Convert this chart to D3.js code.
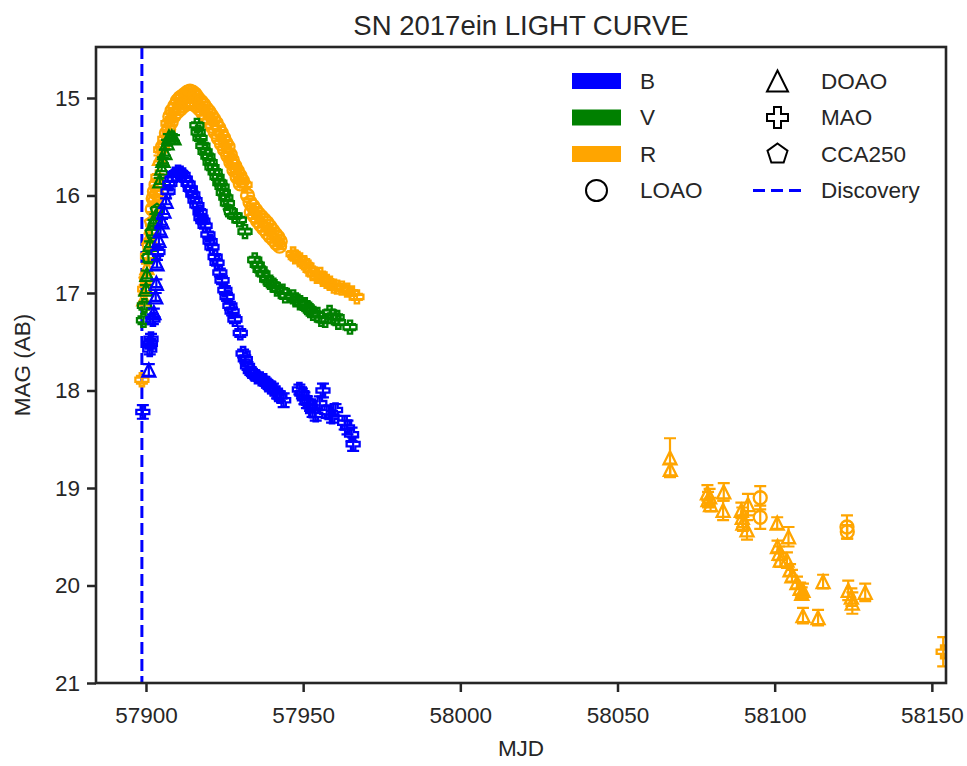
<!DOCTYPE html>
<html>
<head>
<meta charset="utf-8">
<title>SN 2017ein light curve</title>
<style>
    html, body {margin: 0px; padding: 0px; background: #ffffff; overflow: hidden;}
    svg text {font-family: "Liberation Sans", Arial, sans-serif; fill: #262626;}
</style>
</head>
<body>
<div id="chart"></div>
<script src="https://cdn.jsdelivr.net/npm/d3@7"></script>
<script>
// rows are [MJD, mag, error, telescope]
var bandB = [
    [57899.0, 18.22, 0.07, "MAO"], [57900.9, 17.79, 0.06, "DOAO"], [57901.2, 17.58, 0.05, "MAO"],
    [57901.4, 17.52, 0.05, "MAO"], [57901.6, 17.47, 0.05, "MAO"], [57902.2, 17.27, 0.05, "MAO"],
    [57902.5, 17.20, 0.04, "DOAO"], [57903.1, 17.04, 0.04, "DOAO"], [57903.3, 16.90, 0.04, "DOAO"],
    [57903.5, 16.70, 0.04, "DOAO"], [57903.8, 16.58, 0.04, "MAO"], [57904.1, 16.46, 0.04, "DOAO"],
    [57904.6, 16.36, 0.04, "DOAO"], [57905.1, 16.27, 0.03, "DOAO"], [57905.7, 16.16, 0.03, "DOAO"],
    [57906.4, 16.06, 0.03, "DOAO"], [57907.0, 15.96, 0.03, "MAO"], [57907.6, 15.88, 0.03, "MAO"],
    [57908.3, 15.83, 0.03, "MAO"], [57909.2, 15.78, 0.03, "MAO"], [57910.2, 15.76, 0.03, "MAO"],
    [57911.0, 15.77, 0.03, "MAO"], [57911.8, 15.79, 0.03, "MAO"], [57912.5, 15.83, 0.03, "MAO"],
    [57913.4, 15.88, 0.03, "MAO"], [57914.1, 15.93, 0.03, "MAO"], [57914.9, 15.99, 0.03, "MAO"],
    [57915.6, 16.05, 0.03, "MAO"], [57916.2, 16.10, 0.03, "MAO"], [57917.2, 16.17, 0.03, "MAO"],
    [57917.5, 16.23, 0.03, "MAO"], [57918.1, 16.26, 0.03, "MAO"], [57918.8, 16.31, 0.03, "MAO"],
    [57919.7, 16.40, 0.03, "MAO"], [57920.4, 16.47, 0.03, "MAO"], [57921.0, 16.53, 0.03, "MAO"],
    [57922.0, 16.63, 0.03, "MAO"], [57922.6, 16.69, 0.03, "MAO"], [57923.5, 16.79, 0.04, "MAO"],
    [57924.2, 16.87, 0.04, "MAO"], [57925.1, 16.97, 0.04, "MAO"], [57925.8, 17.04, 0.04, "MAO"],
    [57926.7, 17.13, 0.04, "MAO"], [57927.4, 17.19, 0.04, "MAO"], [57928.3, 17.27, 0.04, "MAO"],
    [57930.0, 17.41, 0.04, "MAO"], [57930.9, 17.62, 0.04, "MAO"], [57931.6, 17.68, 0.04, "MAO"],
    [57932.3, 17.75, 0.04, "MAO"], [57933.2, 17.80, 0.04, "MAO"], [57934.2, 17.83, 0.04, "MAO"],
    [57935.3, 17.86, 0.04, "MAO"], [57936.5, 17.88, 0.04, "MAO"], [57937.6, 17.90, 0.04, "MAO"],
    [57938.5, 17.93, 0.04, "MAO"], [57939.5, 17.96, 0.05, "MAO"], [57940.4, 17.98, 0.05, "MAO"],
    [57941.7, 18.03, 0.05, "MAO"], [57942.6, 18.06, 0.05, "MAO"], [57943.8, 18.10, 0.07, "MAO"],
    [57948.8, 17.99, 0.05, "MAO"], [57949.6, 18.03, 0.05, "MAO"], [57950.4, 18.08, 0.06, "MAO"],
    [57951.2, 18.12, 0.06, "MAO"], [57952.2, 18.15, 0.06, "MAO"], [57953.0, 18.21, 0.06, "MAO"],
    [57954.0, 18.25, 0.06, "MAO"], [57955.3, 18.13, 0.07, "MAO"], [57956.3, 18.00, 0.07, "MAO"],
    [57957.5, 18.22, 0.06, "MAO"], [57959.2, 18.27, 0.06, "MAO"], [57960.3, 18.20, 0.06, "MAO"],
    [57963.2, 18.33, 0.07, "MAO"], [57964.1, 18.38, 0.07, "MAO"], [57965.4, 18.45, 0.07, "MAO"],
    [57965.9, 18.55, 0.07, "MAO"]
];

var bandV = [
    [57899.2, 17.28, 0.04, "MAO"], [57899.5, 17.13, 0.04, "MAO"], [57900.0, 16.96, 0.04, "DOAO"],
    [57900.3, 16.81, 0.04, "DOAO"], [57900.8, 16.64, 0.04, "CCA250"], [57901.3, 16.50, 0.03, "DOAO"],
    [57901.9, 16.38, 0.03, "CCA250"], [57902.4, 16.28, 0.03, "DOAO"], [57903.0, 16.22, 0.03, "DOAO"],
    [57903.5, 16.15, 0.03, "CCA250"], [57904.4, 15.85, 0.03, "DOAO"], [57905.0, 15.72, 0.03, "DOAO"],
    [57905.4, 15.64, 0.03, "DOAO"], [57906.0, 15.56, 0.03, "DOAO"], [57906.7, 15.46, 0.03, "DOAO"],
    [57907.3, 15.40, 0.03, "DOAO"], [57908.2, 15.40, 0.03, "DOAO"], [57908.9, 15.41, 0.03, "DOAO"],
    [57916.2, 15.28, 0.03, "MAO"], [57916.6, 15.35, 0.03, "MAO"], [57917.2, 15.41, 0.03, "MAO"],
    [57918.1, 15.49, 0.03, "MAO"], [57918.8, 15.55, 0.03, "MAO"], [57919.7, 15.60, 0.03, "MAO"],
    [57920.4, 15.66, 0.03, "MAO"], [57921.0, 15.71, 0.03, "MAO"], [57922.0, 15.76, 0.03, "MAO"],
    [57922.6, 15.81, 0.03, "MAO"], [57923.5, 15.87, 0.03, "MAO"], [57924.2, 15.91, 0.03, "MAO"],
    [57924.6, 15.97, 0.03, "MAO"], [57925.4, 16.02, 0.03, "MAO"], [57925.9, 16.08, 0.03, "MAO"],
    [57926.7, 16.16, 0.03, "CCA250"], [57928.2, 16.21, 0.03, "MAO"], [57929.7, 16.25, 0.03, "MAO"],
    [57931.5, 16.37, 0.03, "MAO"], [57934.6, 16.66, 0.03, "MAO"], [57935.4, 16.71, 0.03, "MAO"],
    [57936.3, 16.76, 0.03, "MAO"], [57937.2, 16.80, 0.03, "MAO"], [57938.4, 16.86, 0.03, "MAO"],
    [57939.5, 16.89, 0.03, "MAO"], [57940.5, 16.92, 0.03, "MAO"], [57941.7, 16.96, 0.03, "MAO"],
    [57943.4, 16.98, 0.03, "MAO"], [57944.3, 17.03, 0.03, "MAO"], [57946.8, 17.04, 0.03, "MAO"],
    [57947.6, 17.07, 0.03, "MAO"], [57949.0, 17.10, 0.03, "MAO"], [57950.5, 17.12, 0.03, "MAO"],
    [57951.3, 17.15, 0.03, "MAO"], [57952.3, 17.18, 0.03, "MAO"], [57953.2, 17.21, 0.03, "MAO"],
    [57954.5, 17.22, 0.03, "MAO"], [57955.8, 17.27, 0.03, "MAO"], [57957.0, 17.28, 0.03, "MAO"],
    [57958.4, 17.20, 0.03, "MAO"], [57959.5, 17.24, 0.03, "MAO"], [57960.8, 17.25, 0.03, "MAO"],
    [57961.2, 17.30, 0.03, "MAO"], [57964.9, 17.35, 0.03, "MAO"]
];

var bandR = [
    [57898.7, 17.89, 0.04, "MAO"], [57899.3, 17.06, 0.04, "DOAO"], [57899.6, 16.96, 0.04, "MAO"],
    [57899.9, 16.86, 0.04, "CCA250"], [57900.3, 16.74, 0.04, "DOAO"], [57900.5, 16.62, 0.03, "MAO"],
    [57900.8, 16.52, 0.03, "CCA250"], [57901.1, 16.42, 0.03, "DOAO"], [57901.6, 16.28, 0.03, "CCA250"],
    [57901.8, 16.38, 0.03, "LOAO"], [57902.0, 16.14, 0.03, "LOAO"], [57902.3, 16.03, 0.03, "LOAO"],
    [57902.7, 15.96, 0.03, "LOAO"], [57902.9, 16.05, 0.03, "LOAO"], [57903.2, 15.89, 0.03, "LOAO"],
    [57903.4, 15.98, 0.03, "LOAO"], [57903.8, 15.81, 0.03, "MAO"], [57904.3, 15.62, 0.03, "DOAO"],
    [57904.7, 15.53, 0.03, "MAO"], [57905.3, 15.50, 0.03, "LOAO"], [57906.0, 15.42, 0.03, "MAO"],
    [57906.5, 15.36, 0.03, "LOAO"], [57907.0, 15.26, 0.03, "MAO"], [57907.2, 15.32, 0.03, "LOAO"],
    [57907.6, 15.19, 0.03, "LOAO"], [57908.0, 15.25, 0.03, "LOAO"], [57908.3, 15.13, 0.03, "LOAO"],
    [57909.0, 15.18, 0.03, "LOAO"], [57909.2, 15.08, 0.03, "LOAO"], [57910.0, 15.03, 0.03, "LOAO"],
    [57910.0, 15.14, 0.03, "LOAO"], [57910.8, 15.00, 0.03, "LOAO"], [57911.0, 15.11, 0.03, "LOAO"],
    [57911.6, 14.98, 0.03, "LOAO"], [57912.0, 15.08, 0.03, "LOAO"], [57912.4, 14.96, 0.03, "LOAO"],
    [57913.0, 15.06, 0.03, "LOAO"], [57913.2, 14.94, 0.03, "LOAO"], [57914.0, 14.93, 0.03, "LOAO"],
    [57914.0, 15.05, 0.03, "LOAO"], [57914.8, 14.94, 0.03, "LOAO"], [57915.0, 15.06, 0.03, "LOAO"],
    [57915.6, 14.96, 0.03, "LOAO"], [57916.0, 15.08, 0.03, "LOAO"], [57916.2, 14.99, 0.03, "LOAO"],
    [57916.9, 15.02, 0.03, "LOAO"], [57917.0, 15.11, 0.03, "LOAO"], [57917.6, 15.04, 0.03, "LOAO"],
    [57918.0, 15.15, 0.03, "LOAO"], [57918.4, 15.07, 0.03, "LOAO"], [57919.0, 15.19, 0.03, "LOAO"],
    [57919.2, 15.11, 0.03, "LOAO"], [57920.0, 15.14, 0.03, "LOAO"], [57920.0, 15.24, 0.03, "LOAO"],
    [57920.8, 15.18, 0.03, "LOAO"], [57921.0, 15.29, 0.03, "LOAO"], [57921.6, 15.22, 0.03, "LOAO"],
    [57922.0, 15.35, 0.03, "LOAO"], [57922.4, 15.26, 0.03, "LOAO"], [57923.0, 15.41, 0.03, "LOAO"],
    [57923.2, 15.31, 0.03, "LOAO"], [57924.0, 15.36, 0.03, "LOAO"], [57924.0, 15.47, 0.03, "LOAO"],
    [57924.7, 15.41, 0.03, "LOAO"], [57925.0, 15.53, 0.03, "LOAO"], [57925.4, 15.46, 0.03, "LOAO"],
    [57926.0, 15.59, 0.03, "LOAO"], [57926.1, 15.50, 0.03, "LOAO"], [57926.8, 15.58, 0.03, "LOAO"],
    [57927.0, 15.66, 0.03, "LOAO"], [57927.5, 15.64, 0.03, "LOAO"], [57928.0, 15.74, 0.03, "LOAO"],
    [57928.3, 15.70, 0.03, "LOAO"], [57929.0, 15.81, 0.03, "LOAO"], [57929.1, 15.75, 0.03, "LOAO"],
    [57929.9, 15.80, 0.03, "LOAO"], [57930.0, 15.88, 0.03, "LOAO"], [57930.7, 15.85, 0.03, "LOAO"],
    [57931.5, 15.89, 0.03, "MAO"], [57932.3, 16.00, 0.03, "LOAO"], [57933.1, 16.07, 0.03, "LOAO"],
    [57933.5, 16.17, 0.03, "LOAO"], [57934.0, 16.11, 0.03, "LOAO"], [57934.5, 16.21, 0.03, "LOAO"],
    [57934.9, 16.15, 0.03, "LOAO"], [57935.5, 16.26, 0.03, "LOAO"], [57935.8, 16.19, 0.03, "LOAO"],
    [57936.5, 16.30, 0.03, "LOAO"], [57936.7, 16.22, 0.03, "LOAO"], [57937.5, 16.34, 0.03, "LOAO"],
    [57937.6, 16.25, 0.03, "LOAO"], [57938.5, 16.28, 0.03, "LOAO"], [57938.5, 16.38, 0.03, "LOAO"],
    [57939.4, 16.32, 0.03, "LOAO"], [57939.5, 16.42, 0.03, "LOAO"], [57940.3, 16.36, 0.03, "LOAO"],
    [57940.5, 16.45, 0.03, "LOAO"], [57941.2, 16.40, 0.03, "LOAO"], [57941.5, 16.49, 0.03, "LOAO"],
    [57942.0, 16.43, 0.03, "LOAO"], [57942.5, 16.52, 0.03, "LOAO"], [57942.7, 16.47, 0.03, "LOAO"],
    [57946.8, 16.60, 0.03, "MAO"], [57947.5, 16.63, 0.03, "MAO"], [57949.0, 16.66, 0.03, "MAO"],
    [57950.3, 16.69, 0.03, "MAO"], [57951.2, 16.72, 0.03, "MAO"], [57952.2, 16.76, 0.03, "MAO"],
    [57953.1, 16.80, 0.03, "MAO"], [57954.4, 16.83, 0.03, "MAO"], [57955.4, 16.81, 0.03, "MAO"],
    [57956.3, 16.86, 0.03, "MAO"], [57957.5, 16.88, 0.03, "MAO"], [57958.5, 16.90, 0.03, "MAO"],
    [57959.8, 16.93, 0.03, "MAO"], [57960.8, 16.94, 0.03, "MAO"], [57962.3, 16.95, 0.03, "MAO"],
    [57964.0, 16.97, 0.03, "MAO"], [57965.5, 17.00, 0.03, "MAO"], [57967.1, 17.04, 0.03, "MAO"],
    [58066.7, 18.69, 0.20, "DOAO"], [58066.8, 18.81, 0.06, "DOAO"], [58078.6, 19.05, 0.08, "DOAO"],
    [58078.8, 19.12, 0.08, "DOAO"], [58079.3, 19.09, 0.08, "DOAO"], [58079.6, 19.17, 0.07, "DOAO"],
    [58083.8, 19.04, 0.09, "DOAO"], [58083.6, 19.23, 0.10, "DOAO"], [58089.4, 19.23, 0.08, "DOAO"],
    [58089.7, 19.30, 0.10, "DOAO"], [58089.9, 19.36, 0.08, "DOAO"], [58091.2, 19.43, 0.10, "DOAO"],
    [58091.5, 19.17, 0.11, "DOAO"], [58095.4, 19.10, 0.12, "LOAO"], [58095.4, 19.30, 0.12, "LOAO"],
    [58100.8, 19.36, 0.06, "DOAO"], [58100.9, 19.60, 0.06, "DOAO"], [58101.4, 19.67, 0.07, "DOAO"],
    [58101.8, 19.74, 0.07, "DOAO"], [58103.9, 19.74, 0.08, "DOAO"], [58104.4, 19.50, 0.10, "DOAO"],
    [58104.9, 19.84, 0.06, "DOAO"], [58105.5, 19.90, 0.06, "DOAO"], [58107.1, 19.97, 0.06, "DOAO"],
    [58108.1, 20.03, 0.06, "DOAO"], [58108.6, 20.08, 0.06, "DOAO"], [58109.0, 20.05, 0.07, "DOAO"],
    [58109.0, 20.31, 0.08, "DOAO"], [58113.8, 20.33, 0.08, "DOAO"], [58115.4, 19.96, 0.07, "DOAO"],
    [58123.0, 19.40, 0.12, "LOAO"], [58123.1, 19.45, 0.07, "LOAO"], [58123.4, 20.05, 0.10, "DOAO"],
    [58124.4, 20.12, 0.09, "DOAO"], [58124.7, 20.18, 0.11, "DOAO"], [58128.8, 20.07, 0.09, "DOAO"],
    [58153.6, 20.68, 0.15, "MAO"]
];

var bandNames = ["B", "V", "R"];
var telescopes = ["LOAO", "DOAO", "MAO", "CCA250"];
var xTicks = [57900, 57950, 58000, 58050, 58100, 58150];
var yTicks = [15, 16, 17, 18, 19, 20, 21];
var discoveryMjd = 57898.7;
var xLimits = [57884.1, 58154.5];
var yLimits = [14.477, 21];

var bandColor = {B: "#0000ff", V: "#008000", R: "#ffa500"};

var width = 967, height = 766;
var margin = {top: 47, right: 21, bottom: 83, left: 96};

var svg = d3.select("#chart").append("svg")
    .attr("width", width)
    .attr("height", height);

var x = d3.scaleLinear().domain(xLimits).range([margin.left, width - margin.right]);
var y = d3.scaleLinear().domain(yLimits).range([margin.top, height - margin.bottom]);

// matplotlib-like marker outlines, s = marker size in px
function markerPath(tel, s) {
    var h = s / 2;
    if (tel === "DOAO") {
        return "M0," + (-h) + "L" + h + "," + h + "L" + (-h) + "," + h + "Z";
    }
    if (tel === "MAO") {
        var a = s / 6;
        var pts = [[-a,-h],[a,-h],[a,-a],[h,-a],[h,a],[a,a],[a,h],[-a,h],[-a,a],[-h,a],[-h,-a],[-a,-a]];
        return "M" + pts.map(function(p) { return p.join(","); }).join("L") + "Z";
    }
    if (tel === "CCA250") {
        var pp = d3.range(5).map(function(k) {
            var ang = -Math.PI / 2 + k * 2 * Math.PI / 5;
            return [h * Math.cos(ang), h * Math.sin(ang)];
        });
        return "M" + pp.map(function(p) { return p.join(","); }).join("L") + "Z";
    }
    return "M" + h + ",0A" + h + "," + h + " 0 1,1 " + (-h) + ",0A" + h + "," + h + " 0 1,1 " + h + ",0Z";
}

svg.append("clipPath").attr("id", "plot-clip")
  .append("rect")
    .attr("x", margin.left).attr("y", margin.top)
    .attr("width", width - margin.left - margin.right)
    .attr("height", height - margin.top - margin.bottom);

var plot = svg.append("g").attr("clip-path", "url(#plot-clip)");

// discovery line
plot.append("line")
    .attr("x1", x(discoveryMjd)).attr("x2", x(discoveryMjd))
    .attr("y1", margin.top).attr("y2", height - margin.bottom)
    .style("stroke", "#0000ff")
    .style("stroke-width", 3)
    .style("stroke-dasharray", "12,5");

var markerSize = 13, capHalf = 6;
var bandData = {B: bandB, V: bandV, R: bandR};

// R first so that V and B sit on top, as in the picture
["R", "V", "B"].forEach(function(band) {
    var col = bandColor[band];
    var g = plot.append("g").attr("class", "band-" + band);

    var pt = g.selectAll(".pt")
        .data(bandData[band])
      .enter().append("g")
        .attr("class", "pt")
        .attr("transform", function(d) { return "translate(" + x(d[0]) + "," + y(d[1]) + ")"; })
        .style("stroke", col)
        .style("fill", "none");

    pt.append("line")
        .attr("x1", 0).attr("x2", 0)
        .attr("y1", function(d) { return y(d[1] - d[2]) - y(d[1]); })
        .attr("y2", function(d) { return y(d[1] + d[2]) - y(d[1]); })
        .style("stroke-width", 2.2);

    pt.append("path")
        .attr("d", function(d) {
            var t = y(d[1] - d[2]) - y(d[1]), b = y(d[1] + d[2]) - y(d[1]);
            return "M" + (-capHalf) + "," + t + "H" + capHalf + "M" + (-capHalf) + "," + b + "H" + capHalf;
        })
        .style("stroke-width", 2.2);

    pt.append("path")
        .attr("d", function(d) { return markerPath(d[3], markerSize); })
        .style("stroke-width", 2.3)
        .style("stroke-linejoin", "miter");
});

// axes
var xAxis = d3.axisBottom(x).tickValues(xTicks).tickSize(9).tickPadding(8).tickFormat(d3.format("d"));
var yAxis = d3.axisLeft(y).tickValues(yTicks).tickSize(9).tickPadding(7).tickFormat(d3.format("d"));

var gx = svg.append("g")
    .attr("transform", "translate(0," + (height - margin.bottom) + ")")
    .call(xAxis);
var gy = svg.append("g")
    .attr("transform", "translate(" + margin.left + ",0)")
    .call(yAxis);

[gx, gy].forEach(function(ax) {
    ax.select(".domain").remove();
    ax.selectAll(".tick line").style("stroke", "#262626").style("stroke-width", 2.5);
    ax.selectAll(".tick text").style("font-size", "22.5px").style("fill", "#262626");
});
gx.selectAll(".tick text").attr("dy", "1.0em");

// frame
svg.append("rect")
    .attr("x", margin.left).attr("y", margin.top)
    .attr("width", width - margin.left - margin.right)
    .attr("height", height - margin.top - margin.bottom)
    .style("fill", "none")
    .style("stroke", "#262626")
    .style("stroke-width", 2.6);

// titles
svg.append("text")
    .attr("x", (margin.left + width - margin.right) / 2)
    .attr("y", 35)
    .attr("text-anchor", "middle")
    .style("font-size", "27.5px")
    .text("SN 2017ein LIGHT CURVE");

svg.append("text")
    .attr("x", (margin.left + width - margin.right) / 2)
    .attr("y", 756)
    .attr("text-anchor", "middle")
    .style("font-size", "22.5px")
    .text("MJD");

svg.append("text")
    .attr("transform", "translate(30," + ((margin.top + height - margin.bottom) / 2) + ") rotate(-90)")
    .attr("text-anchor", "middle")
    .style("font-size", "22.5px")
    .text("MAG (AB)");

// legend: two columns, bands + LOAO, then telescopes + discovery
var legendItems = bandNames.map(function(b) { return {kind: "patch", label: b, color: bandColor[b]}; })
    .concat([{kind: "marker", label: "LOAO"}])
    .concat(telescopes.slice(1).map(function(t) { return {kind: "marker", label: t}; }))
    .concat([{kind: "line", label: "Discovery"}]);

var legendLeft = 572, legendTop = 81, rowStep = 36.5, colStep = 181, handleW = 49;

var li = svg.append("g").attr("class", "legend")
    .selectAll("g")
    .data(legendItems)
  .enter().append("g")
    .attr("transform", function(d, i) {
        return "translate(" + (legendLeft + Math.floor(i / 4) * colStep) + "," + (legendTop + (i % 4) * rowStep) + ")";
    });

li.filter(function(d) { return d.kind === "patch"; })
  .append("rect")
    .attr("x", 0).attr("y", -8)
    .attr("width", handleW).attr("height", 16)
    .style("fill", function(d) { return d.color; });

li.filter(function(d) { return d.kind === "marker"; })
  .append("path")
    .attr("transform", "translate(" + (handleW / 2) + ",0)")
    .attr("d", function(d) { return markerPath(d.label, 21); })
    .style("fill", "none")
    .style("stroke", "#000000")
    .style("stroke-width", 2);

li.filter(function(d) { return d.kind === "line"; })
  .append("line")
    .attr("x1", 0).attr("x2", handleW)
    .style("stroke", "#0000ff")
    .style("stroke-width", 3)
    .style("stroke-dasharray", "12,6");

li.append("text")
    .attr("x", handleW + 19)
    .attr("dy", "0.35em")
    .style("font-size", "22.5px")
    .text(function(d) { return d.label; });
</script>
</body>
</html>
